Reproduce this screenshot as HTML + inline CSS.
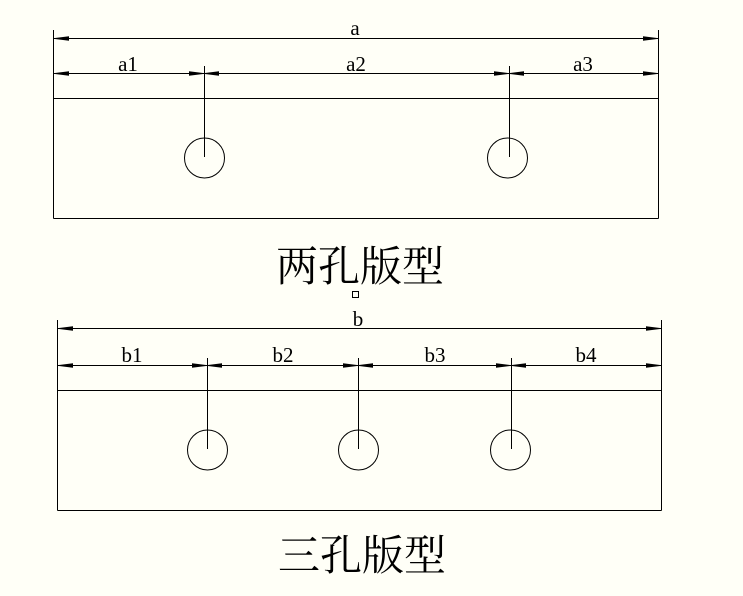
<!DOCTYPE html>
<html><head><style>html,body{margin:0;padding:0;background:#fffff7;}svg{display:block}</style></head><body>
<svg width="743" height="596" xmlns="http://www.w3.org/2000/svg">
<defs>
<marker id="ar" viewBox="0 0 15 6" refX="15" refY="3" markerWidth="15" markerHeight="6" markerUnits="userSpaceOnUse" orient="auto-start-reverse"><path d="M0,0.8 L15,2.6 L15,3.4 L0,5.2 Z" fill="#000"/></marker>
</defs>
<rect width="743" height="596" fill="#fffff7"/>
<g stroke="#000" stroke-width="1" fill="none">
<line x1="53.5" y1="30" x2="53.5" y2="218.5"/>
<line x1="658.5" y1="30" x2="658.5" y2="218.5"/>
<line x1="53.5" y1="98.5" x2="658.5" y2="98.5"/>
<line x1="53.5" y1="218.5" x2="658.5" y2="218.5"/>
<line x1="54" y1="38.5" x2="658" y2="38.5" marker-start="url(#ar)" marker-end="url(#ar)"/>
<line x1="54" y1="73.5" x2="204" y2="73.5" marker-start="url(#ar)" marker-end="url(#ar)"/>
<line x1="204" y1="73.5" x2="509" y2="73.5" marker-start="url(#ar)" marker-end="url(#ar)"/>
<line x1="509" y1="73.5" x2="658" y2="73.5" marker-start="url(#ar)" marker-end="url(#ar)"/>
<line x1="204.5" y1="66" x2="204.5" y2="157"/>
<line x1="509.5" y1="66" x2="509.5" y2="157"/>
<circle cx="204.5" cy="158" r="20"/>
<circle cx="507.5" cy="158" r="20"/>
<line x1="57.5" y1="320" x2="57.5" y2="510.5"/>
<line x1="661.5" y1="320" x2="661.5" y2="510.5"/>
<line x1="57.5" y1="390.5" x2="661.5" y2="390.5"/>
<line x1="57.5" y1="510.5" x2="661.5" y2="510.5"/>
<line x1="58" y1="328.5" x2="661" y2="328.5" marker-start="url(#ar)" marker-end="url(#ar)"/>
<line x1="58" y1="365.5" x2="207" y2="365.5" marker-start="url(#ar)" marker-end="url(#ar)"/>
<line x1="207" y1="365.5" x2="358" y2="365.5" marker-start="url(#ar)" marker-end="url(#ar)"/>
<line x1="358" y1="365.5" x2="511" y2="365.5" marker-start="url(#ar)" marker-end="url(#ar)"/>
<line x1="511" y1="365.5" x2="661" y2="365.5" marker-start="url(#ar)" marker-end="url(#ar)"/>
<line x1="207.5" y1="358" x2="207.5" y2="449"/>
<line x1="358.5" y1="358" x2="358.5" y2="449"/>
<line x1="511.5" y1="358" x2="511.5" y2="449"/>
<circle cx="207.5" cy="450" r="20"/>
<circle cx="358.5" cy="450" r="20"/>
<circle cx="510.5" cy="450" r="20"/>
<rect x="352.5" y="291.5" width="6" height="6"/>
</g>
<g font-family="Liberation Serif, serif" font-size="21" text-anchor="middle" fill="#000">
<text x="355" y="35">a</text>
<text x="128" y="71">a1</text>
<text x="356" y="71">a2</text>
<text x="583" y="71">a3</text>
<text x="358" y="326">b</text>
<text x="132" y="362">b1</text>
<text x="283" y="362">b2</text>
<text x="435" y="362">b3</text>
<text x="586" y="362">b4</text>
</g>
<g font-family="Liberation Serif, 'Noto Serif CJK SC', serif" font-size="42" text-anchor="middle" fill="#000">
<text x="360" y="281">两孔版型</text>
<text x="362" y="570">三孔版型</text>
</g>
</svg>
</body></html>
